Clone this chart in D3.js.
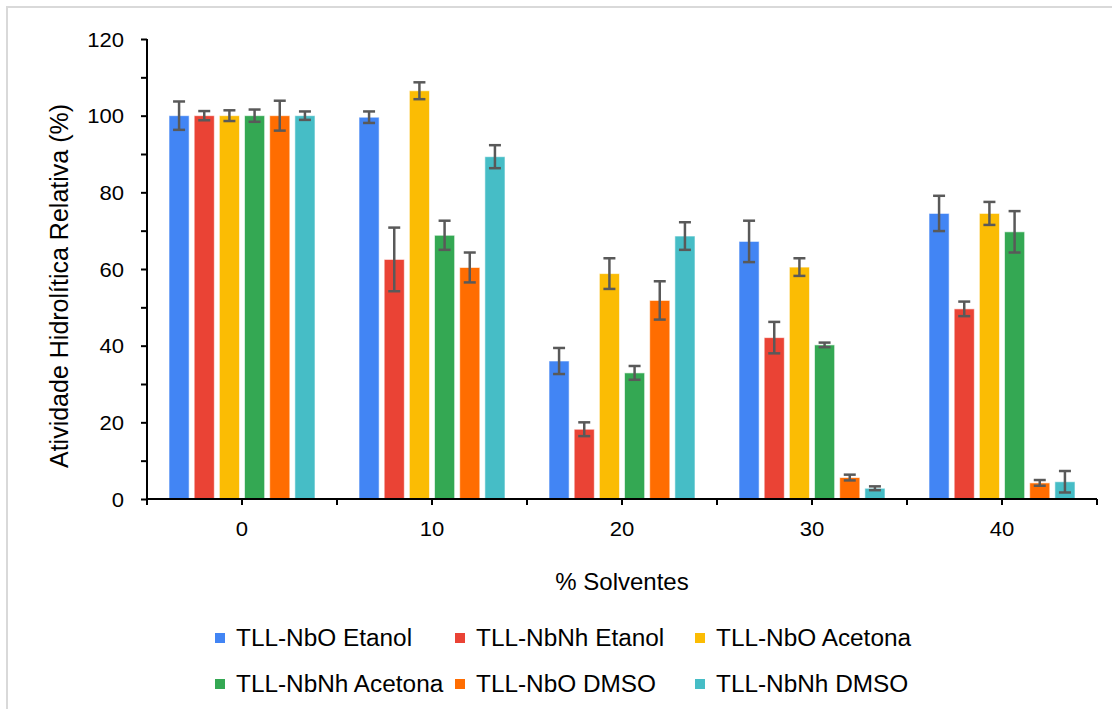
<!DOCTYPE html>
<html>
<head>
<meta charset="utf-8">
<script src="https://cdn.jsdelivr.net/npm/d3@7"></script>
<style>
  html, body { margin: 0; padding: 0; background: #fff; }
  svg { display: block; font-family: "Liberation Sans", Arial, sans-serif; }
</style>
</head>
<body>
<svg id="chart" width="1112" height="709"></svg>
<script>
// ---- data ----
const categories = ["0", "10", "20", "30", "40"];
const seriesNames = ["TLL-NbO Etanol", "TLL-NbNh Etanol", "TLL-NbO Acetona",
                     "TLL-NbNh Acetona", "TLL-NbO DMSO", "TLL-NbNh DMSO"];
const nboEtanol     = [100, 99.6, 36.0, 67.2, 74.5];
const nbnhEtanol    = [100, 62.5, 18.2, 42.1, 49.6];
const nboAcetona    = [100, 106.5, 58.8, 60.5, 74.5];
const nbnhAcetona   = [100, 68.8, 32.9, 40.2, 69.7];
const nboDmso       = [100, 60.4, 51.8, 5.6, 4.2];
const nbnhDmso      = [100, 89.3, 68.6, 2.8, 4.5];
const errNboEtanol   = [3.7, 1.5, 3.4, 5.4, 4.6];
const errNbnhEtanol  = [1.2, 8.3, 1.8, 4.1, 1.9];
const errNboAcetona  = [1.4, 2.2, 4.0, 2.3, 3.0];
const errNbnhAcetona = [1.6, 3.8, 1.8, 0.6, 5.4];
const errNboDmso     = [3.9, 3.9, 5.0, 0.75, 0.75];
const errNbnhDmso    = [1.1, 3.0, 3.6, 0.5, 2.8];
const yTicks = [0, 20, 40, 60, 80, 100, 120];
const yMinorTicks = [10, 30, 50, 70, 90, 110];
const colors = ["#4285F4", "#EA4335", "#FBBC04", "#34A853", "#FF6D01", "#46BDC6"];

const values = [nboEtanol, nbnhEtanol, nboAcetona, nbnhAcetona, nboDmso, nbnhDmso];
const errors = [errNboEtanol, errNbnhEtanol, errNboAcetona, errNbnhAcetona, errNboDmso, errNbnhDmso];

// ---- layout ----
const svg = d3.select("#chart");
const plotLeft = 147, plotRight = 1097, plotTop = 39, plotBottom = 499;

// frame (top & left grey edges)
svg.append("line").attr("x1", 6).attr("x2", 1112).attr("y1", 7).attr("y2", 7)
  .attr("stroke", "#d9d9d9").attr("stroke-width", 2);
svg.append("line").attr("x1", 7).attr("x2", 7).attr("y1", 6).attr("y2", 709)
  .attr("stroke", "#d9d9d9").attr("stroke-width", 2);

const x0 = d3.scaleBand().domain(categories).range([plotLeft, plotRight]).paddingInner(0).paddingOuter(0);
const x1 = d3.scaleBand().domain(seriesNames).range([22, 168]).paddingInner(0.2).paddingOuter(0);
const y = d3.scaleLinear().domain([0, 120]).range([plotBottom, plotTop]);

// bars
const groups = svg.append("g").selectAll("g").data(categories).join("g")
  .attr("transform", c => `translate(${x0(c)},0)`);

groups.each(function(c, ci) {
  const g = d3.select(this);
  seriesNames.forEach((s, si) => {
    const v = values[si][ci];
    g.append("rect")
      .attr("x", x1(s)).attr("width", x1.bandwidth())
      .attr("y", y(v)).attr("height", y(0) - y(v))
      .attr("fill", colors[si])
      .attr("stroke", "#fff").attr("stroke-opacity", 0.6).attr("stroke-width", 1);
  });
});

// error bars
groups.each(function(c, ci) {
  const g = d3.select(this);
  seriesNames.forEach((s, si) => {
    const v = values[si][ci], e = errors[si][ci];
    const cx = x1(s) + x1.bandwidth() / 2;
    const eb = g.append("g").attr("stroke", "#595959").attr("stroke-width", 2.5);
    eb.append("line").attr("x1", cx).attr("x2", cx).attr("y1", y(v + e)).attr("y2", y(v - e));
    eb.append("line").attr("x1", cx - 6).attr("x2", cx + 6).attr("y1", y(v + e)).attr("y2", y(v + e));
    eb.append("line").attr("x1", cx - 6).attr("x2", cx + 6).attr("y1", y(v - e)).attr("y2", y(v - e));
  });
});

// helper for horizontally stretched text
function stretchedText(parent, x, yy, txt, size, anchor, sx) {
  return parent.append("text")
    .attr("transform", `translate(${x},${yy}) scale(${sx},1)`)
    .attr("text-anchor", anchor)
    .attr("font-size", size)
    .attr("fill", "#000")
    .text(txt);
}

// y axis
const yAxis = svg.append("g").attr("transform", `translate(${plotLeft},0)`)
  .call(d3.axisLeft(y).tickValues(yTicks).tickSize(6).tickFormat(""));
yAxis.select(".domain").attr("stroke", "#000").attr("stroke-width", 2).attr("d", `M0,${plotTop}V${plotBottom}`);
yAxis.selectAll(".tick line").attr("stroke", "#000").attr("stroke-width", 2);
svg.append("g").attr("transform", `translate(${plotLeft},0)`)
  .call(d3.axisLeft(y).tickValues(yMinorTicks).tickSize(6).tickFormat(""))
  .call(g => g.select(".domain").remove())
  .selectAll(".tick line").attr("stroke", "#000").attr("stroke-width", 2);
yTicks.forEach(t => stretchedText(svg, 124, y(t) + 7.5, String(t), 21, "end", 1.05));

// x axis
const xAxis = svg.append("g").attr("transform", `translate(0,${plotBottom})`)
  .call(d3.axisBottom(x0).tickSize(6).tickFormat(""));
xAxis.select(".domain").attr("stroke", "#000").attr("stroke-width", 2).attr("d", `M${plotLeft},0H${plotRight}`);
xAxis.selectAll(".tick line").attr("stroke", "#000").attr("stroke-width", 2);
const boundaries = categories.map(c => x0(c)).concat([x0.range()[1]]);
xAxis.selectAll(".bnd").data(boundaries).join("line").attr("class", "bnd")
  .attr("x1", d => d).attr("x2", d => d).attr("y1", 0).attr("y2", 6)
  .attr("stroke", "#000").attr("stroke-width", 2);
categories.forEach(c => stretchedText(svg, x0(c) + x0.bandwidth() / 2, 536, c, 21, "middle", 1.05));

// axis titles
stretchedText(svg, 622, 590, "% Solventes", 24, "middle", 1.0);
svg.append("text")
  .attr("transform", "translate(68,286) rotate(-90)")
  .attr("text-anchor", "middle").attr("font-size", 25).attr("fill", "#000")
  .text("Atividade Hidrolítica Relativa (%)");

// legend
const legendX = [215, 455, 695];
const legendY = [646, 692];
seriesNames.forEach((s, i) => {
  const col = i % 3, row = Math.floor(i / 3);
  const lg = svg.append("g");
  lg.append("rect").attr("x", legendX[col]).attr("y", legendY[row] - 13)
    .attr("width", 10).attr("height", 10).attr("fill", colors[i]);
  stretchedText(lg, legendX[col] + 21, legendY[row], s, 23, "start", 1.06);
});
</script>
</body>
</html>
